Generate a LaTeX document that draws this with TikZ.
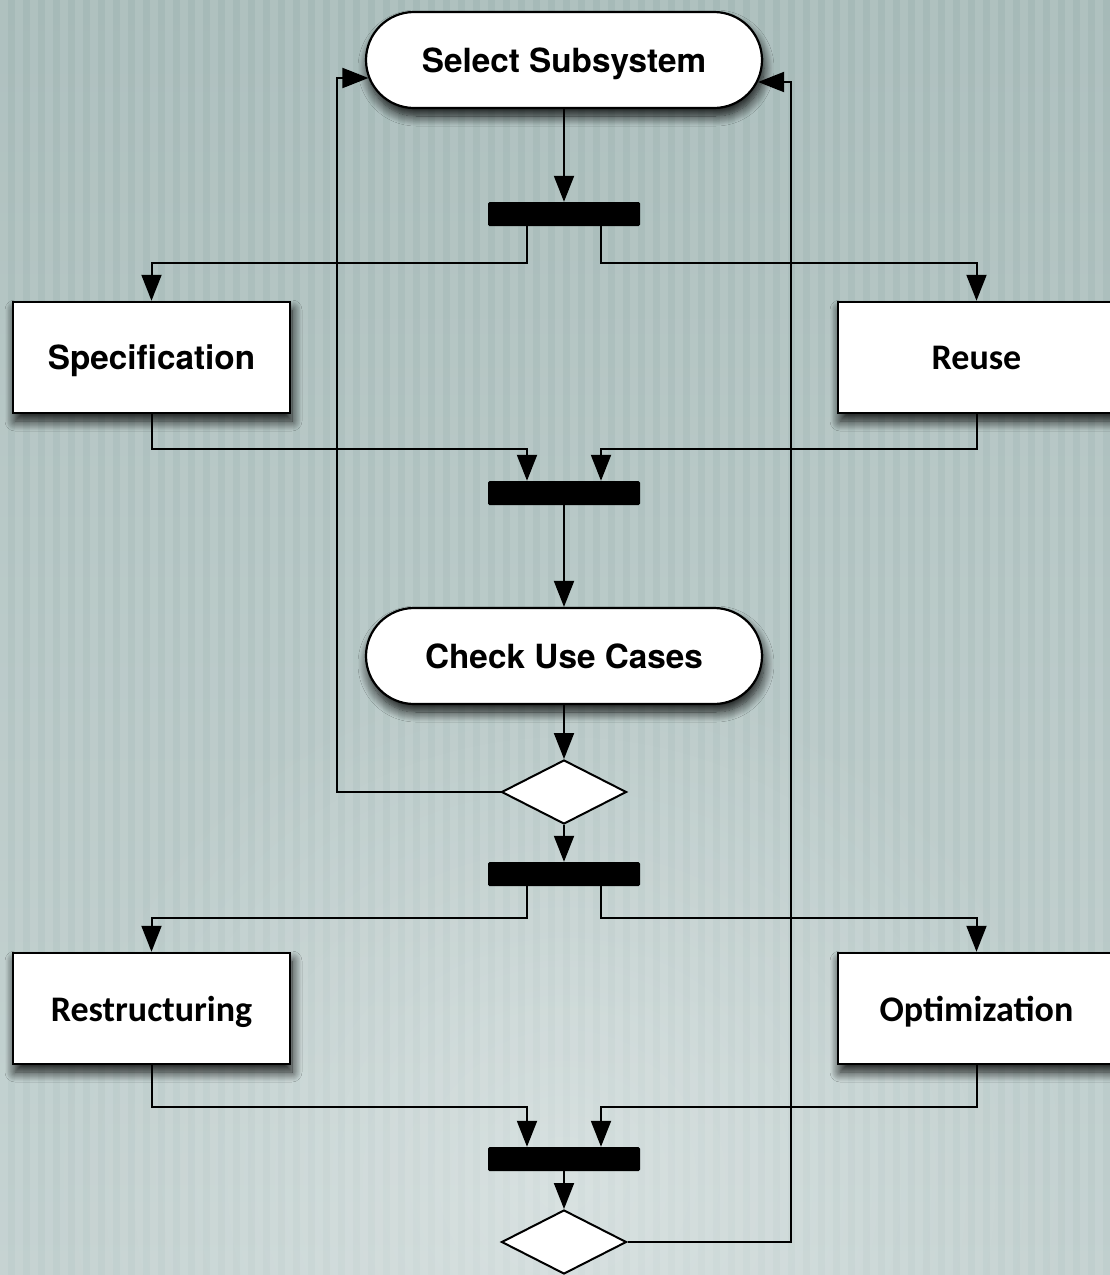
\documentclass[tikz,border=0pt]{standalone}
\usepackage{fontspec}
\setmainfont{TeX Gyre Heros}
\newfontfamily\heros{TeX Gyre Heros}
\newfontfamily\carlito{Carlito}
\usetikzlibrary{arrows.meta,shapes.geometric,shadows.blur,fadings}

\tikzfading[name=glow, inner color=transparent!0, outer color=transparent!100]

\tikzset{
  nodeshadow/.style={blur shadow={shadow xshift=2pt, shadow yshift=-8pt,
      shadow blur radius=10pt, shadow blur steps=12, shadow opacity=90}},
  terminal/.style={draw, line width=2.2pt, fill=white, rounded corners=48pt,
      minimum width=396pt, minimum height=96pt, inner sep=0pt, text depth=0pt,
      nodeshadow, font=\heros\bfseries\fontsize{33.3}{40}\selectfont},
  activity/.style={draw, line width=2.5pt, fill=white,
      minimum width=277pt, minimum height=111pt, inner sep=0pt, text depth=0pt,
      nodeshadow, font=\heros\bfseries\fontsize{33.3}{40}\selectfont},
  calact/.style={activity, font=\carlito\bfseries\fontsize{36}{42}\selectfont},
  syncbar/.style={fill=black, rounded corners=1.5pt, minimum width=152pt,
      minimum height=24pt, inner sep=0pt},
  decision/.style={draw, line width=2pt, fill=white, diamond, aspect=2,
      minimum width=125pt, minimum height=64pt, inner sep=0pt},
  flow/.style={line width=2pt, -{Triangle[length=26pt,width=20pt]}},
}

\begin{document}
\begin{tikzpicture}[x=1pt,y=-1pt]
  \useasboundingbox (0,0) rectangle (1110,1275);

  % striped grey-green backdrop, lighter towards the bottom
  \shade[top color={rgb,255:red,166;green,186;blue,184},
         middle color={rgb,255:red,176;green,195;blue,193},
         bottom color={rgb,255:red,192;green,207;blue,206}]
        (0,0) rectangle (1110,1275);
  \fill[white, path fading=glow, opacity=0.35] (564,1180) circle (520pt);
  \foreach \i in {0,...,74}
    \fill[white, opacity=0.1] (\i*15,0) rectangle ++(7.5,1275);

  % nodes
  \node[terminal] (sel) at (564,60) {Select Subsystem};
  \node[syncbar] (b1) at (564,214) {};
  \node[activity] (spec) at (151.5,357.5) {Specification};
  \node[calact] (reuse) at (976.5,357.5) {Reuse};
  \node[syncbar] (b2) at (564,493) {};
  \node[terminal] (cuc) at (564,656) {Check Use Cases};
  \node[decision] (d1) at (564,792) {};
  \node[syncbar] (b3) at (564,874) {};
  \node[calact] (restr) at (151.5,1008.5) {Restructuring};
  \node[calact] (opt) at (976.5,1008.5) {Optimization};
  \node[syncbar] (b4) at (564,1159) {};
  \node[decision] (d2) at (564,1242) {};

  % first fork / join
  \draw[flow] (sel) -- (b1);
  \draw[flow] ([xshift=-37pt]b1.south) -- ++(0,37) -| (spec.north);
  \draw[flow] ([xshift=37pt]b1.south) -- ++(0,37) -| (reuse.north);
  \draw[flow] (spec.south) -- ++(0,35) -| ([xshift=-37pt]b2.north);
  \draw[flow] (reuse.south) -- ++(0,35) -| ([xshift=37pt]b2.north);
  \draw[flow] (b2) -- (cuc);
  \draw[flow] (cuc) -- (d1);
  \draw[flow] (d1) -- (b3);

  % second fork / join
  \draw[flow] ([xshift=-37pt]b3.south) -- ++(0,32) -| (restr.north);
  \draw[flow] ([xshift=37pt]b3.south) -- ++(0,32) -| (opt.north);
  \draw[flow] (restr.south) -- ++(0,42) -| ([xshift=-37pt]b4.north);
  \draw[flow] (opt.south) -- ++(0,42) -| ([xshift=37pt]b4.north);
  \draw[flow] (b4) -- (d2);

  % loops back to the start
  \draw[flow] (d1.west) -- ++(-164,0) |- ([shift={(3.5pt,-18pt)}]sel.west);
  \draw[flow] (d2.east) -- ++(163,0) |- ([shift={(-5pt,-22pt)}]sel.east);
\end{tikzpicture}
\end{document}
